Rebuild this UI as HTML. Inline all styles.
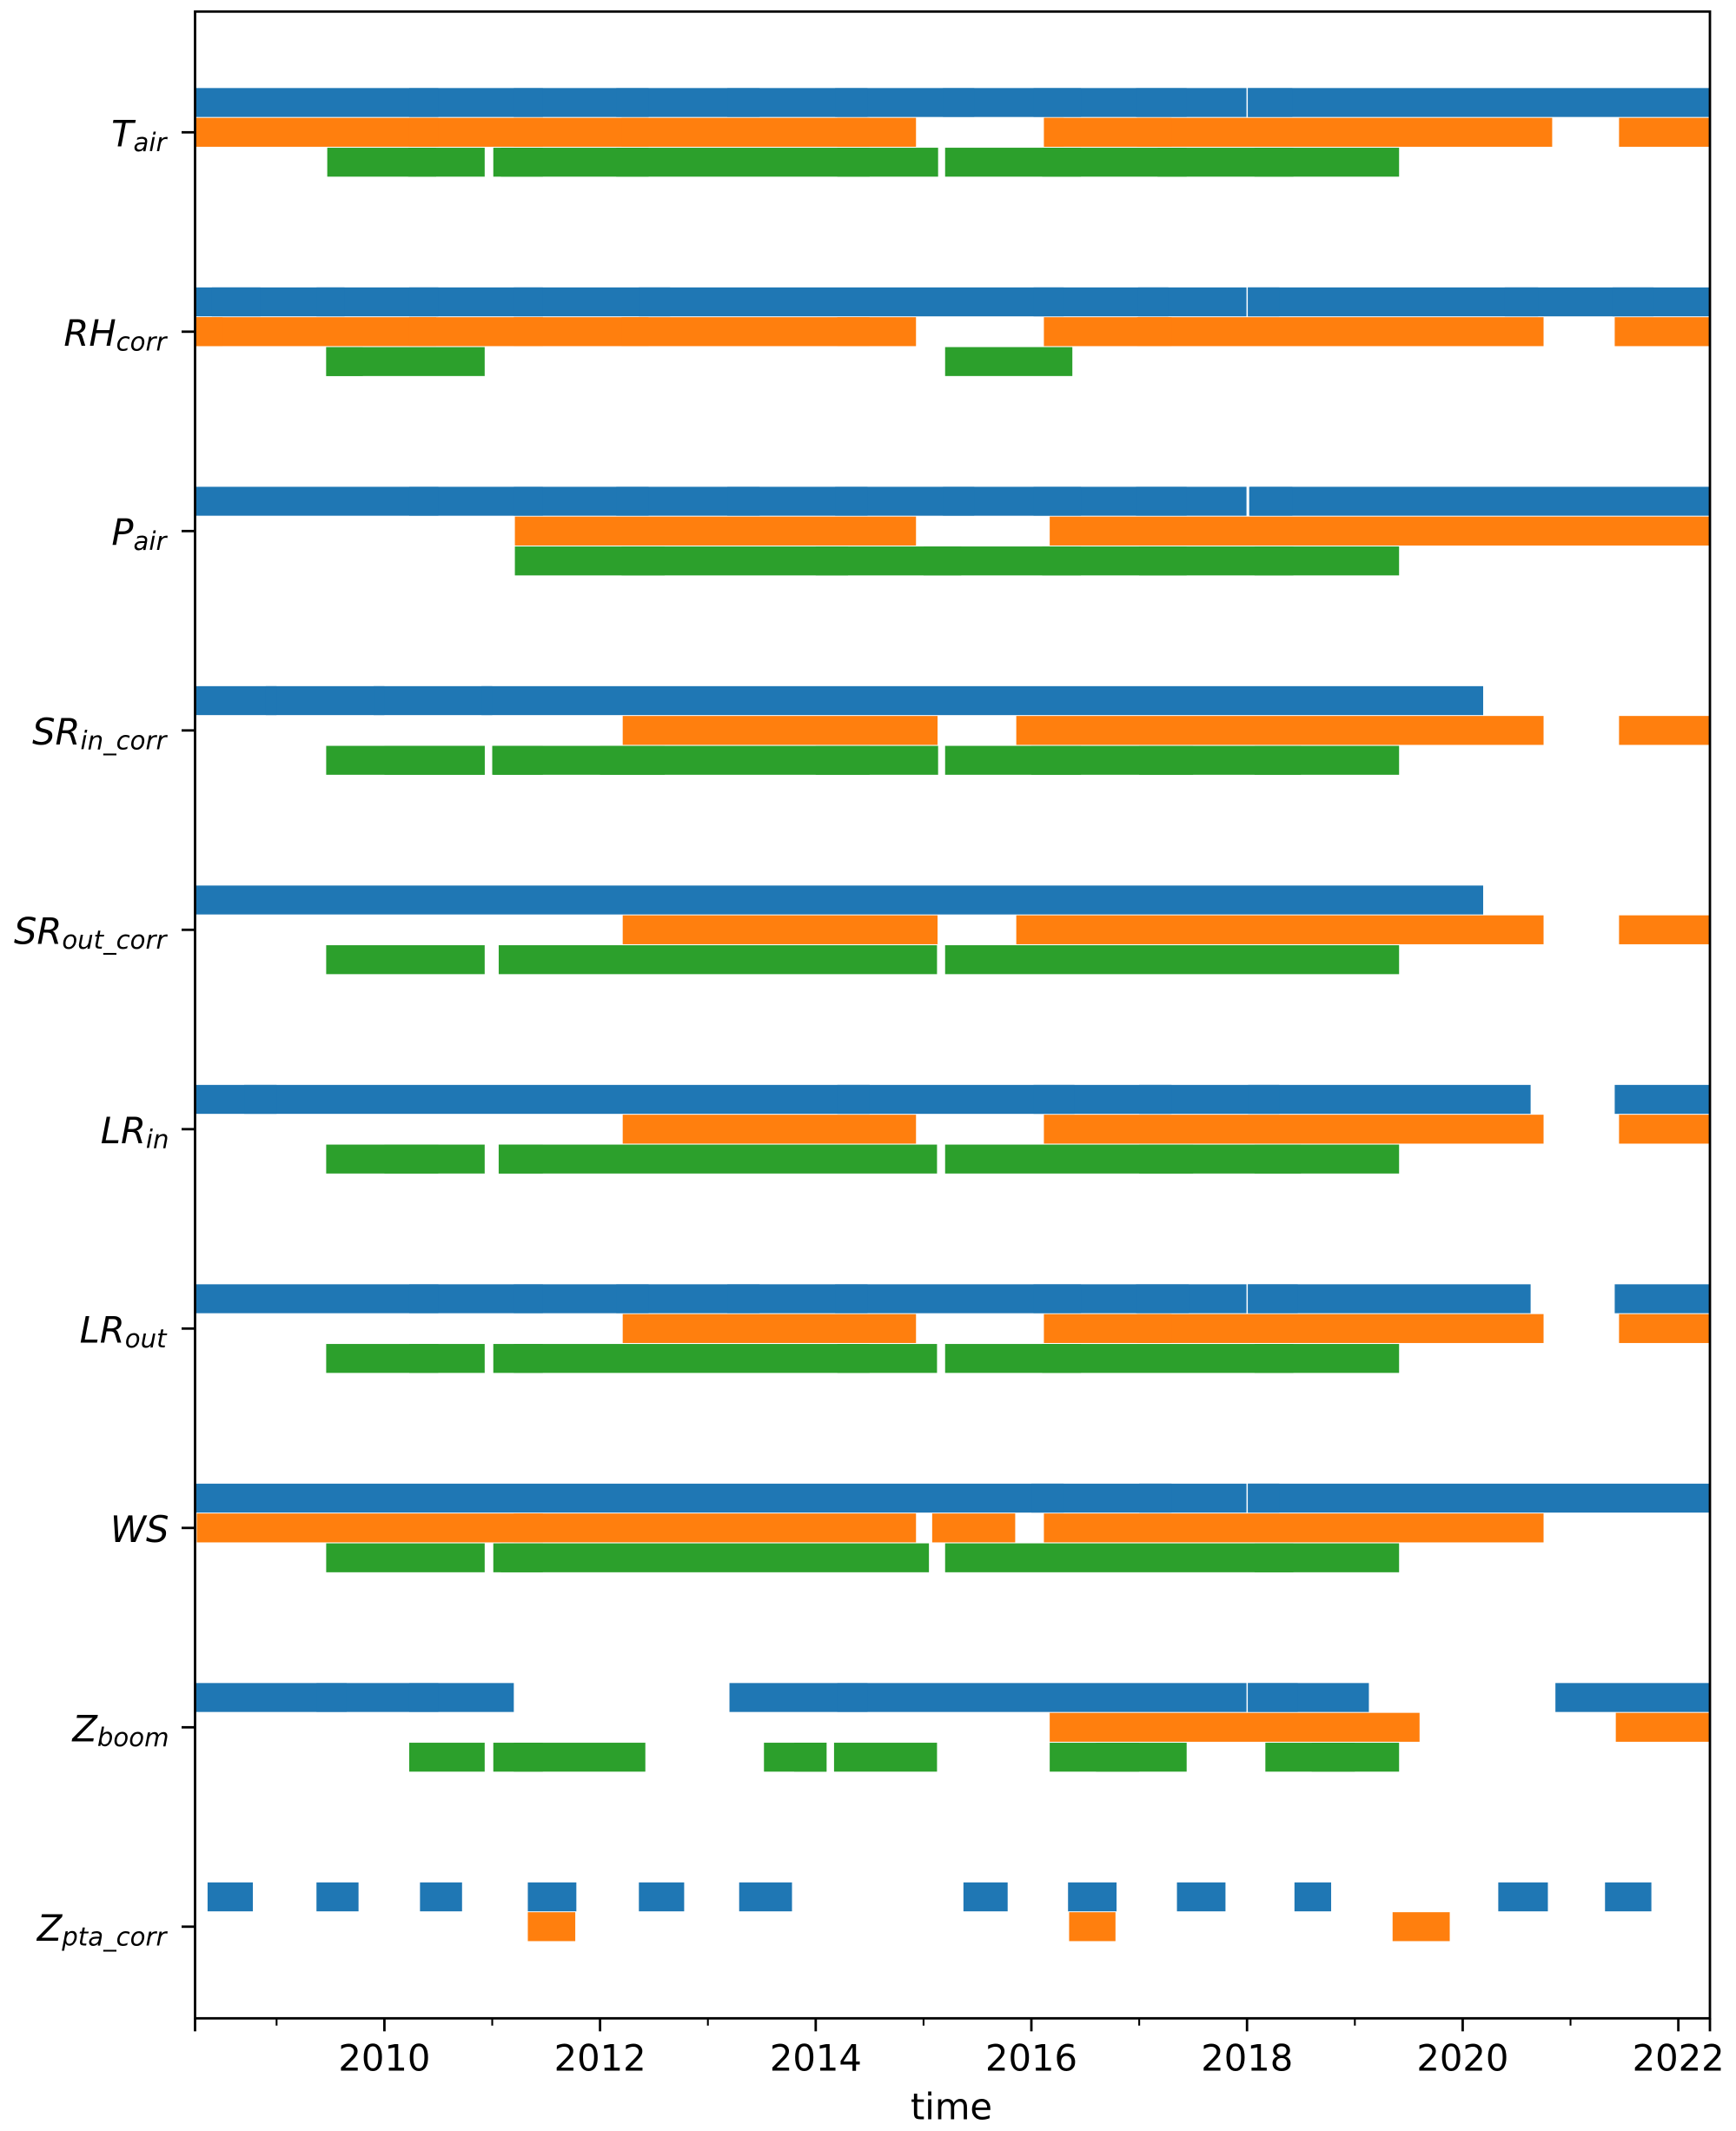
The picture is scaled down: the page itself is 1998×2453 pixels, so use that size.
<!DOCTYPE html>
<html lang="en">
<head>
<meta charset="utf-8">
<title>Data availability timeline</title>
<style>
html,body{margin:0;padding:0;background:#fff;}
svg{display:block;}
text{font-family:"DejaVu Sans","Liberation Sans",sans-serif;fill:#000;}
</style>
</head>
<body>
<svg id="chart" xmlns="http://www.w3.org/2000/svg" width="1998" height="2453" viewBox="0 0 1998 2453"></svg>
<script>
// Category names (main symbol, subscript)
const categoryMain = ["T","RH","P","SR","SR","LR","LR","WS","Z","Z"];
const categorySub = ["air","corr","air","in_corr","out_corr","in","out","","boom","pta_corr"];
const categoryKeys = ["t-air","rh-corr","p-air","sr-in-corr","sr-out-corr","lr-in","lr-out","ws","z-boom","z-pta-corr"];

// Axis tick labels (years)
const majorYears = [2010,2012,2014,2016,2018,2020,2022];
const minorYears = [2009,2011,2013,2015,2017,2019,2021];
const xLabel = "time";

// Spans of available data per category, in decimal years [start, end]
const blueSpans = [
  [[2008.244,2017.995],[2018.007,2022.293]],
  [[2008.244,2017.995],[2018.007,2022.293]],
  [[2008.244,2017.995],[2018.02,2022.293]],
  [[2008.244,2020.19]],
  [[2008.244,2020.19]],
  [[2008.244,2020.63],[2021.41,2022.293]],
  [[2008.244,2017.995],[2018.007,2020.63],[2021.41,2022.293]],
  [[2008.244,2017.995],[2018.007,2022.293]],
  [[2008.244,2011.2],[2013.2,2017.995],[2018.007,2019.13],[2020.86,2022.293]],
  [[2008.36,2008.78],[2009.37,2009.76],[2010.33,2010.72],[2011.33,2011.78],[2012.36,2012.78],[2013.29,2013.78],[2015.37,2015.78],[2016.34,2016.79],[2017.35,2017.80],[2018.44,2018.78],[2020.33,2020.79],[2021.32,2021.75]]
];
const orangeSpans = [
  [[2008.244,2014.93],[2016.116,2020.83],[2021.45,2022.293]],
  [[2008.244,2014.93],[2016.116,2020.75],[2021.41,2022.293]],
  [[2011.21,2014.93],[2016.17,2022.293]],
  [[2012.21,2015.13],[2015.86,2020.75],[2021.45,2022.293]],
  [[2012.21,2015.13],[2015.86,2020.75],[2021.45,2022.293]],
  [[2012.21,2014.93],[2016.116,2020.75],[2021.45,2022.293]],
  [[2012.21,2014.93],[2016.116,2020.75],[2021.45,2022.293]],
  [[2008.26,2014.93],[2015.08,2015.85],[2016.116,2020.75]],
  [[2016.17,2019.6],[2021.42,2022.293]],
  [[2011.33,2011.77],[2016.35,2016.78],[2019.35,2019.88]]
];
const greenSpans = [
  [[2009.47,2010.93],[2011.01,2015.135],[2015.2,2019.41]],
  [[2009.46,2010.93],[2015.2,2016.38]],
  [[2011.21,2019.41]],
  [[2009.46,2010.93],[2011.01,2015.135],[2015.2,2019.41]],
  [[2009.46,2010.93],[2011.06,2015.125],[2015.2,2019.41]],
  [[2009.46,2010.93],[2011.06,2015.125],[2015.2,2019.41]],
  [[2009.46,2010.93],[2011.01,2015.125],[2015.2,2019.41]],
  [[2009.46,2010.93],[2011.01,2015.05],[2015.2,2019.41]],
  [[2010.23,2010.93],[2011.01,2012.42],[2013.52,2014.1],[2014.17,2015.125],[2016.17,2017.44],[2018.17,2019.41]],
  []
];

// Overlapping record stretches, where the line is painted twice and reads slightly thicker
const blueOverlaps = [
  [[2010.23,2010.5],[2011.2,2011.47],[2012.15,2012.45],[2013.18,2013.48],[2014.18,2014.48],[2015.18,2015.47],[2016.02,2016.46],[2016.97,2017.44],[2018.01,2018.42]],
  [[2008.4,2008.85],[2009.37,2009.63],[2010.23,2010.5],[2011.2,2011.47],[2012.36,2012.65],[2016.02,2016.3],[2016.99,2017.27],[2018.01,2018.3],[2020.39,2020.7],[2021.39,2021.77]],
  [[2010.23,2010.5],[2011.2,2011.47],[2012.15,2012.45],[2013.18,2013.48],[2014.18,2014.48],[2015.18,2015.47],[2016.02,2016.46],[2016.97,2017.44],[2018.03,2018.42]],
  [[2008.9,2009.0],[2009.9,2010.0],[2010.9,2011.0]],
  [],
  [[2008.7,2009.0],[2014.2,2014.5],[2016.02,2016.4],[2017.0,2017.3],[2018.01,2018.3]],
  [[2010.23,2010.5],[2011.2,2011.47],[2012.15,2012.45],[2013.18,2013.48],[2014.18,2014.48],[2016.02,2016.46],[2016.97,2017.46],[2018.01,2018.47]],
  [[2016.0,2016.3],[2017.0,2017.3],[2018.01,2018.3]],
  [[2009.37,2009.65],[2010.23,2010.5],[2014.2,2014.48],[2018.01,2018.47]],
  []
];
const orangeOverlaps = [
  [[2010.23,2010.5],[2011.2,2011.47],[2012.2,2012.45],[2014.2,2014.5],[2016.12,2016.3],[2016.98,2017.3]],
  [[2008.244,2008.5],[2010.23,2010.48],[2011.2,2011.47],[2012.2,2012.45],[2014.2,2014.5],[2016.98,2017.3]],
  [],[],[],[],
  [[2016.98,2017.3]],
  [[2011.2,2011.47]],
  [],
  []
];
const greenOverlaps = [
  [[2010.22,2010.48],[2011.08,2011.47],[2012.15,2012.45],[2014.2,2014.5],[2016.1,2016.46],[2017.17,2017.44],[2018.07,2018.43]],
  [[2009.46,2009.8]],
  [[2012.2,2012.6],[2014.0,2014.3],[2015.0,2015.35],[2016.1,2016.46],[2017.0,2017.44],[2018.07,2018.43]],
  [[2010.0,2010.93],[2011.0,2011.47],[2012.0,2012.6],[2014.0,2014.5],[2016.0,2016.46],[2017.0,2017.5],[2018.07,2018.5]],
  [],
  [[2010.0,2010.5],[2011.06,2011.47],[2017.0,2017.5],[2018.07,2018.5]],
  [[2010.23,2010.5],[2011.2,2011.47],[2014.2,2014.5],[2016.1,2016.46],[2018.07,2018.43]],
  [[2011.08,2011.47],[2018.07,2018.43]],
  [[2011.2,2011.47],[2013.8,2014.1],[2016.6,2017.0],[2018.6,2019.0]],
  []
];

const seriesNames = ["blue","orange","green"];
const seriesValues = [blueSpans,orangeSpans,greenSpans];
const seriesOverlaps = [blueOverlaps,orangeOverlaps,greenOverlaps];

// Axis functions
const plotLeft = 224.5, plotRight = 1968, plotTop = 13.3, plotBottom = 2323.3;
const yearMin = 2008.244, yearMax = 2022.293;
function xScale(year){ return plotLeft + (year - yearMin) / (yearMax - yearMin) * (plotRight - plotLeft); }
function yScale(index){ return 152.3 + index * 229.5; }

const seriesColor = {blue:"#1f77b4",orange:"#ff7f0e",green:"#2ca02c"};
const seriesOffset = {blue:-34.3,orange:0,green:34.4};
const barHeight = 33.3;
const NS = "http://www.w3.org/2000/svg";
const svg = document.getElementById("chart");

function make(tag, attrs){
  const el = document.createElementNS(NS, tag);
  for (const k in attrs) el.setAttribute(k, attrs[k]);
  return el;
}

// Background
const bg = make("rect",{x:0,y:0,width:1998,height:2453,fill:"#ffffff"});


svg.appendChild(bg);

function drawSpan(span, c, name, suffix){
  const x0 = xScale(span[0]);
  const x1 = xScale(span[1]);
  const bar = make("rect",{
    x:x0.toFixed(2),
    y:(yScale(c) + seriesOffset[name] - barHeight/2).toFixed(2),
    width:(x1-x0).toFixed(2),
    height:barHeight,
    fill:seriesColor[name]
  });
  
  
  svg.appendChild(bar);
}

// Bars
seriesNames.forEach(function(name, s){
  seriesValues[s].forEach(function(spans, c){
    spans.forEach(function(span){ drawSpan(span, c, name, ''); });
  });
  seriesOverlaps[s].forEach(function(spans, c){
    spans.forEach(function(span){ drawSpan(span, c, name, '-overlap'); });
  });
});

// Y ticks and labels
categoryMain.forEach(function(main, c){
  const y = yScale(c);
  const tick = make("line",{x1:209,x2:plotLeft,y1:y,y2:y,stroke:"#000","stroke-width":2.8});
  
  
  svg.appendChild(tick);

  const sub = categorySub[c];
  const endsNarrow = /[rt]$/.test(sub);
  const label = make("text",{x:endsNarrow ? 191.5 : 194.5,y:(y+16).toFixed(1),"text-anchor":"end","font-size":41.67,"font-style":"italic"});
  
  
  const m = make("tspan",{});
  m.textContent = main;
  label.appendChild(m);
  if (sub) {
    const subSpan = make("tspan",{"font-size":29.17,dy:5.5});
    subSpan.textContent = sub;
    label.appendChild(subSpan);
  }
  svg.appendChild(label);
});

// X ticks and labels
minorYears.forEach(function(yr){
  const t = make("line",{x1:xScale(yr),x2:xScale(yr),y1:plotBottom,y2:2331.7,stroke:"#000","stroke-width":2.1});
  
  
  svg.appendChild(t);
});
majorYears.forEach(function(yr){
  const t = make("line",{x1:xScale(yr),x2:xScale(yr),y1:plotBottom,y2:2338.3,stroke:"#000","stroke-width":2.8});
  
  
  svg.appendChild(t);
  const lbl = make("text",{x:xScale(yr),y:2383.3,"text-anchor":"middle","font-size":41.67});
  lbl.textContent = String(yr);
  
  
  svg.appendChild(lbl);
});
[yearMin, yearMax].forEach(function(yr, i){
  const t = make("line",{x1:xScale(yr),x2:xScale(yr),y1:plotBottom,y2:2338.3,stroke:"#000","stroke-width":2.8});
  
  
  svg.appendChild(t);
});

// X axis title
const title = make("text",{x:1095,y:2439.3,"text-anchor":"middle","font-size":41.67});
title.textContent = xLabel;


svg.appendChild(title);

// Spines
const frame = make("rect",{x:plotLeft,y:plotTop,width:plotRight-plotLeft,height:plotBottom-plotTop,fill:"none",stroke:"#000","stroke-width":2.8});


svg.appendChild(frame);
</script>
</body>
</html>
